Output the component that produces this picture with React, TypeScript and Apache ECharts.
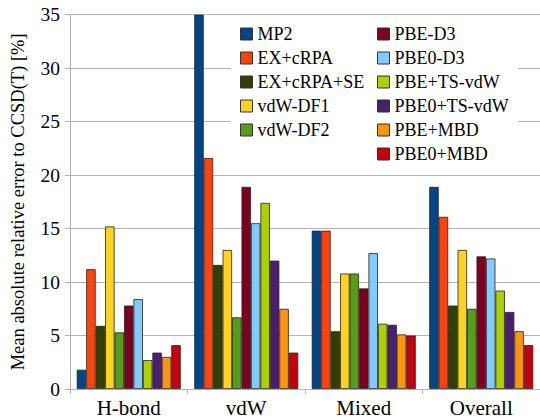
import React, { useEffect, useRef } from "react";
import * as echarts from "echarts";

const categories = ["H-bond", "vdW", "Mixed", "Overall"];
const yTicks = [0, 5, 10, 15, 20, 25, 30, 35];
const seriesNames = [
  "MP2", "EX+cRPA", "EX+cRPA+SE", "vdW-DF1", "vdW-DF2",
  "PBE-D3", "PBE0-D3", "PBE+TS-vdW", "PBE0+TS-vdW", "PBE+MBD", "PBE0+MBD",
];
const seriesColors = [
  "#004586", "#ff420e", "#314004", "#ffd320", "#579d1c",
  "#7e0021", "#83caff", "#aecf00", "#4b1f6f", "#ff950e", "#c5000b",
];
const mp2 = [1.8, 35, 14.8, 18.9];
const exCrpa = [11.2, 21.6, 14.8, 16.1];
const exCrpaSe = [5.9, 11.6, 5.4, 7.8];
const vdwDf1 = [15.2, 13.0, 10.8, 13.0];
const vdwDf2 = [5.3, 6.7, 10.8, 7.5];
const pbeD3 = [7.8, 18.9, 9.4, 12.4];
const pbe0D3 = [8.4, 15.5, 12.7, 12.2];
const pbeTs = [2.7, 17.4, 6.1, 9.2];
const pbe0Ts = [3.4, 12.0, 6.0, 7.2];
const pbeMbd = [3.0, 7.5, 5.1, 5.4];
const pbe0Mbd = [4.1, 3.4, 5.0, 4.1];
const seriesValues = [mp2, exCrpa, exCrpaSe, vdwDf1, vdwDf2, pbeD3, pbe0D3, pbeTs, pbe0Ts, pbeMbd, pbe0Mbd];

const FONT = "Liberation Serif";

export default function App() {
  const ref = useRef<HTMLDivElement>(null);
  useEffect(() => {
    if (!ref.current) return;
    const chart = echarts.init(ref.current, undefined, { renderer: "svg" });
    const legendText = { fontFamily: FONT, fontSize: 18, color: "#000" };
    const legendBase = {
      z: 5,
      orient: "vertical",
      top: 25,
      padding: 0,
      itemWidth: 12,
      itemHeight: 12,
      itemGap: 6,
      itemStyle: { borderColor: "#333", borderWidth: 1 },
      icon: "rect",
      textStyle: legendText,
      selectedMode: false,
    };
    chart.setOption({
      animation: false,
      backgroundColor: "#fff",
      textStyle: { fontFamily: FONT },
      grid: { left: 67, top: 14.7, width: 474, bottom: 28.7, containLabel: false },
      graphic: [
        {
          type: "rect",
          z: 3,
          shape: { x: 231, y: 16, width: 287, height: 156 },
          style: { fill: "#fff" },
        },
      ],
      legend: [
        { ...legendBase, left: 240, data: seriesNames.slice(0, 5) },
        { ...legendBase, left: 377, data: seriesNames.slice(5) },
      ],
      xAxis: {
        type: "category",
        data: categories,
        axisLine: { lineStyle: { color: "#b3b3b3", width: 1 } },
        axisTick: { show: true, length: 5, lineStyle: { color: "#b3b3b3" } },
        axisLabel: { fontFamily: FONT, fontSize: 21, color: "#000", margin: 8 },
      },
      yAxis: {
        type: "value",
        min: 0,
        max: yTicks[yTicks.length - 1],
        interval: 5,
        name: "Mean absolute relative error to CCSD(T) [%]",
        nameLocation: "middle",
        nameGap: 43,
        nameTextStyle: { fontFamily: FONT, fontSize: 18.5, color: "#000" },
        axisLine: { show: true, lineStyle: { color: "#b3b3b3", width: 1 } },
        axisTick: { show: true, length: 5, lineStyle: { color: "#b3b3b3" } },
        axisLabel: { fontFamily: FONT, fontSize: 19.5, color: "#000", margin: 10 },
        splitLine: { show: true, lineStyle: { color: "#b3b3b3", width: 1 } },
      },
      series: seriesNames.map((name, i) => ({
        name,
        type: "bar",
        data: seriesValues[i],
        barGap: "0%",
        barCategoryGap: "11.5%",
        clip: true,
        itemStyle: { color: seriesColors[i], borderColor: "#222", borderWidth: 0.8 },
      })),
    });
    return () => chart.dispose();
  }, []);
  return (
    <div
      ref={ref}
      style={{ position: "fixed", left: 0, top: 0, width: 540, height: 418 }}
    />
  );
}
